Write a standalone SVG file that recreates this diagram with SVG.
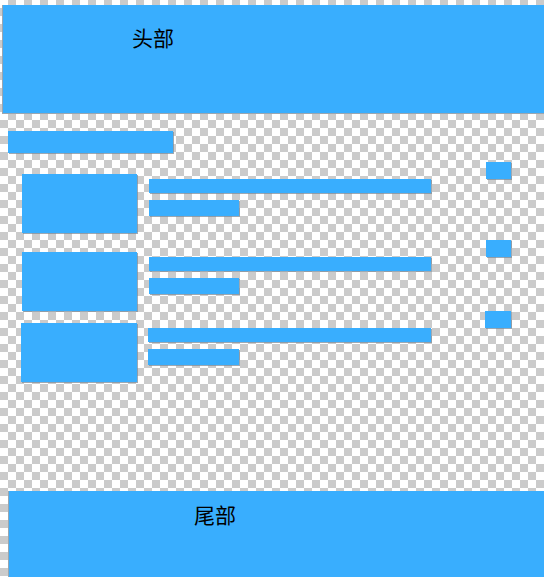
<svg xmlns="http://www.w3.org/2000/svg" width="544" height="577" viewBox="0 0 544 577">
  <defs>
    <pattern id="checker" x="0" y="0" width="16" height="16" patternUnits="userSpaceOnUse">
      <rect width="16" height="16" fill="#ffffff"/>
      <rect x="8" y="0" width="8" height="8" fill="#cbcbcb"/>
      <rect x="0" y="8" width="8" height="8" fill="#cbcbcb"/>
    </pattern>
  </defs>
  <style>
    .blk { fill: #39aefe; }
    .sh { fill: #7d8c99; opacity: 0.75; }
    .lbl { font-family: "Noto Sans CJK SC", "Noto Sans", sans-serif; font-size: 21px; fill: #000000; }
  </style>
  <rect width="544" height="577" fill="url(#checker)"/>

  <g id="header">
    <rect x="2" y="5" width="542" height="109" fill="#9aa6b0"/>
    <rect class="blk" x="3" y="5" width="541" height="108"/>
    <text class="lbl" x="132" y="45.5">头部</text>
  </g>

  <g id="title-bar">
    <rect class="sh" x="9" y="132" width="165" height="22"/>
    <rect class="blk" x="8" y="131" width="165" height="22"/>
  </g>

  <g id="item-1">
    <rect class="sh" x="23" y="175" width="115" height="59"/>
    <rect class="blk" x="22" y="174" width="115" height="59"/>
    <rect class="sh" x="150" y="180" width="282" height="14"/>
    <rect class="blk" x="149" y="179" width="282" height="14"/>
    <rect class="sh" x="150" y="201" width="90" height="16"/>
    <rect class="blk" x="149" y="200" width="90" height="16"/>
    <rect class="sh" x="487" y="163" width="25" height="17"/>
    <rect class="blk" x="486" y="162" width="25" height="17"/>
  </g>

  <g id="item-2">
    <rect class="sh" x="23" y="253" width="115" height="59"/>
    <rect class="blk" x="22" y="252" width="115" height="59"/>
    <rect class="sh" x="150" y="258" width="282" height="14"/>
    <rect class="blk" x="149" y="257" width="282" height="14"/>
    <rect class="sh" x="150" y="279" width="90" height="16"/>
    <rect class="blk" x="149" y="278" width="90" height="16"/>
    <rect class="sh" x="487" y="241" width="25" height="17"/>
    <rect class="blk" x="486" y="240" width="25" height="17"/>
  </g>

  <g id="item-3">
    <rect class="sh" x="22" y="324" width="116" height="59"/>
    <rect class="blk" x="21" y="323" width="116" height="59"/>
    <rect class="sh" x="149" y="329" width="283" height="14"/>
    <rect class="blk" x="148" y="328" width="283" height="14"/>
    <rect class="sh" x="149" y="350" width="91" height="16"/>
    <rect class="blk" x="148" y="349" width="91" height="16"/>
    <rect class="sh" x="486" y="312" width="26" height="17"/>
    <rect class="blk" x="485" y="311" width="26" height="17"/>
  </g>

  <g id="footer">
    <rect x="8" y="491" width="536" height="86" fill="#9aa6b0"/>
    <rect class="blk" x="9" y="491" width="535" height="86"/>
    <text class="lbl" x="194" y="523">尾部</text>
  </g>

  <g id="connectors"/>
</svg>
